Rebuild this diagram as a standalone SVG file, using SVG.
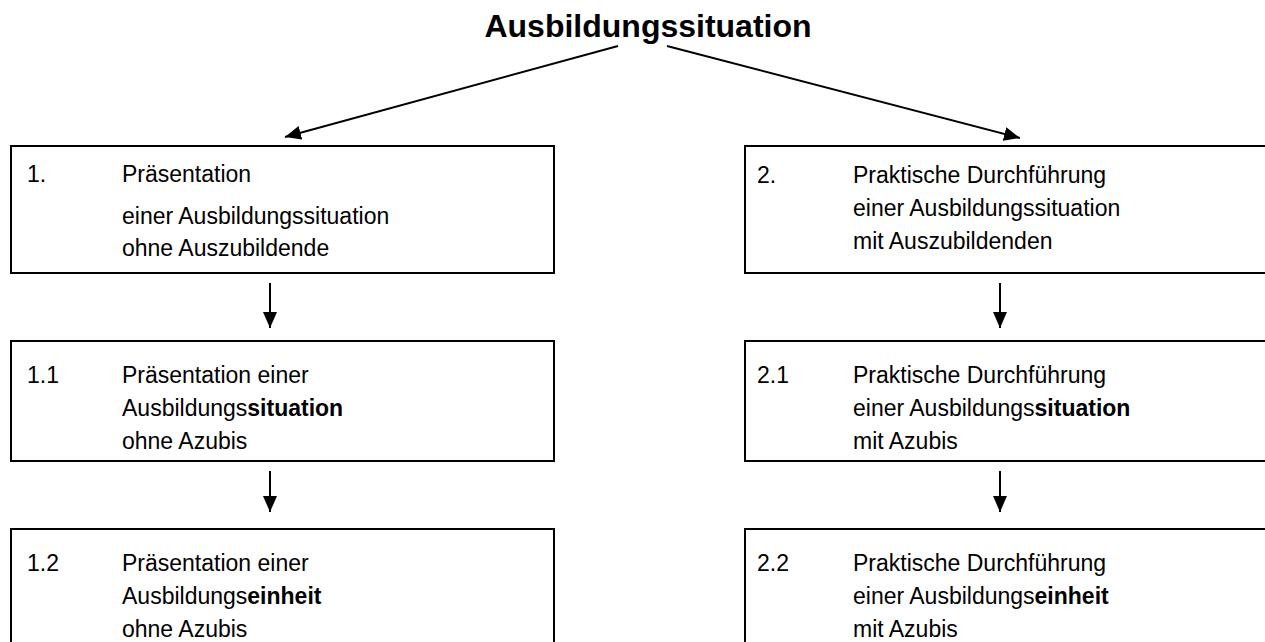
<svg xmlns="http://www.w3.org/2000/svg" width="1265" height="642" viewBox="0 0 1265 642">
<style>
.box{fill:#fff;stroke:#000;stroke-width:2}
.t{font-family:"Liberation Sans",Arial,sans-serif;font-size:23px;fill:#000}
.b{font-weight:bold}
.title{font-family:"Liberation Sans",Arial,sans-serif;font-size:32px;font-weight:bold;fill:#000}
.c{stroke:#000;stroke-width:2;fill:none}
</style>
<defs>
<marker id="ah" markerWidth="16" markerHeight="14" refX="16" refY="7" orient="auto" markerUnits="userSpaceOnUse">
<path d="M0,0 L16,7 L0,14 Z" fill="#000"/>
</marker>
</defs>
<rect width="1265" height="642" fill="#fff"/>
<g id="title">
<text class="title" x="648" y="37" text-anchor="middle">Ausbildungssituation</text>
</g>
<g id="connectors">
<line class="c" x1="618" y1="46" x2="285" y2="137" marker-end="url(#ah)"/>
<line class="c" x1="667" y1="46" x2="1020" y2="138" marker-end="url(#ah)"/>
<line class="c" x1="270" y1="283" x2="270" y2="328" marker-end="url(#ah)"/>
<line class="c" x1="270" y1="471" x2="270" y2="512" marker-end="url(#ah)"/>
<line class="c" x1="1000" y1="283" x2="1000" y2="328" marker-end="url(#ah)"/>
<line class="c" x1="1000" y1="471" x2="1000" y2="512" marker-end="url(#ah)"/>
</g>
<g id="n1">
<rect class="box" x="11" y="146" width="543" height="127"/>
<text class="t" x="27" y="182">1.</text>
<text class="t" x="122" y="182">Präsentation</text>
<text class="t" x="122" y="224">einer Ausbildungssituation</text>
<text class="t" x="122" y="256">ohne Auszubildende</text>
</g>
<g id="n2">
<rect class="box" x="745" y="146" width="530" height="127"/>
<text class="t" x="757" y="183">2.</text>
<text class="t" x="853" y="183">Praktische Durchführung</text>
<text class="t" x="853" y="216">einer Ausbildungssituation</text>
<text class="t" x="853" y="249">mit Auszubildenden</text>
</g>
<g id="n11">
<rect class="box" x="11" y="341" width="543" height="120"/>
<text class="t" x="27" y="383">1.1</text>
<text class="t" x="122" y="383">Präsentation einer</text>
<text class="t" x="122" y="416">Ausbildungs<tspan class="b">situation</tspan></text>
<text class="t" x="122" y="449">ohne Azubis</text>
</g>
<g id="n21">
<rect class="box" x="745" y="341" width="530" height="120"/>
<text class="t" x="757" y="383">2.1</text>
<text class="t" x="853" y="383">Praktische Durchführung</text>
<text class="t" x="853" y="416">einer Ausbildungs<tspan class="b">situation</tspan></text>
<text class="t" x="853" y="449">mit Azubis</text>
</g>
<g id="n12">
<rect class="box" x="11" y="529" width="543" height="130"/>
<text class="t" x="27" y="571">1.2</text>
<text class="t" x="122" y="571">Präsentation einer</text>
<text class="t" x="122" y="604">Ausbildungs<tspan class="b">einheit</tspan></text>
<text class="t" x="122" y="637">ohne Azubis</text>
</g>
<g id="n22">
<rect class="box" x="745" y="529" width="530" height="130"/>
<text class="t" x="757" y="571">2.2</text>
<text class="t" x="853" y="571">Praktische Durchführung</text>
<text class="t" x="853" y="604">einer Ausbildungs<tspan class="b">einheit</tspan></text>
<text class="t" x="853" y="637">mit Azubis</text>
</g>
</svg>
